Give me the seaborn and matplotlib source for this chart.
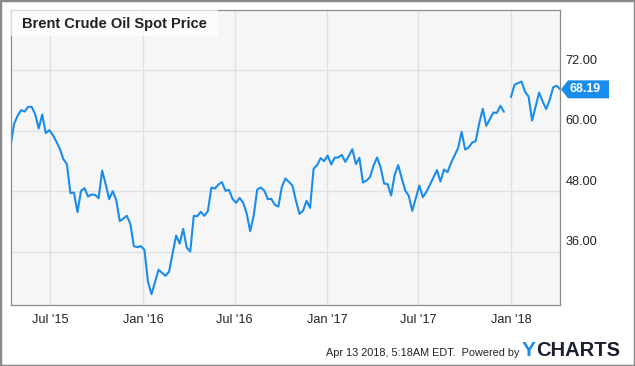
import numpy as np
import pandas as pd
import matplotlib
matplotlib.use("Agg")
import matplotlib.pyplot as plt
import matplotlib.dates as mdates
import matplotlib.transforms as mtransforms
from matplotlib.patches import Polygon, Rectangle
import seaborn as sns

# ---------------- data ----------------
title = "Brent Crude Oil Spot Price"
start_date = "2015-04-13"
prices = [
    56.87, 61.31, 62.95, 64.08, 63.80, 64.73, 64.73, 63.29, 60.44, 63.21,
    59.52, 60.12, 59.19, 57.86, 56.42, 54.38, 53.39, 47.64, 47.76, 43.88,
    48.10, 48.63, 46.97, 47.37, 47.31, 46.65, 52.12, 49.43, 46.46, 48.04,
    46.32, 42.10, 42.61, 43.15, 41.56, 37.15, 36.95, 37.15, 36.42, 30.14,
    27.64, 30.02, 32.46, 31.86, 31.27, 32.12, 35.76, 39.25, 37.66, 40.57,
    36.87, 36.08, 43.15, 43.09, 43.94, 43.15, 44.08, 48.75, 48.55, 49.35,
    49.82, 48.10, 48.30, 46.51, 45.72, 46.71, 45.78, 43.68, 40.12, 43.15,
    48.36, 48.75, 48.16, 46.46, 46.51, 45.33, 44.99, 48.89, 50.53, 49.88,
    49.15, 46.12, 43.54, 44.14, 46.12, 44.73, 52.46, 53.19, 54.57, 53.98,
    55.09, 53.31, 54.69, 54.69, 55.23, 53.84, 55.03, 56.36, 53.39, 54.63,
    49.74, 50.14, 50.81, 53.05, 54.69, 52.79, 49.54, 49.43, 47.17, 51.27,
    53.19, 50.61, 48.16, 47.11, 44.14, 46.65, 49.15, 46.85, 47.90, 49.29,
    50.73, 52.20, 49.94, 52.32, 51.80, 53.64, 55.09, 56.55, 59.78, 56.28,
    56.67, 57.66, 57.94, 61.50, 64.34, 60.97, 62.30, 63.60, 63.54, 64.93,
    63.74, None, 66.65, 69.09, 69.43, 69.74, 67.70, 66.77, 62.02, 64.79,
    67.56, 65.78, 64.28, 66.12, 68.63, 68.89, 68.19,
]
y_ticks = [36, 48, 60, 72]
y_tick_labels = ["36.00", "48.00", "60.00", "72.00"]
last_label = "68.19"
footer_text = "Apr 13 2018, 5:18AM EDT.  Powered by"
logo_y = "Y"
logo_rest = "CHARTS"

dates = pd.date_range(start_date, periods=len(prices), freq="7D")
df = pd.DataFrame({"date": dates, "price": pd.to_numeric(pd.Series(prices), errors="coerce")})
df["seg"] = df["price"].isna().cumsum()
df = df.dropna()

# ---------------- style ----------------
sns.set_theme(style="white")
plt.rcParams["font.family"] = ["Liberation Sans", "DejaVu Sans"]

line_color = "#1a8ceb"
W, H = 635, 366
fig = plt.figure(figsize=(W / 100, H / 100), dpi=100)
fig.patch.set_facecolor("white")

L, R, T, B = 10.5, 560.3, 10.0, 305.0
ax = fig.add_axes([L / W, (H - B) / H, (R - L) / W, (B - T) / H])
ax.set_facecolor("#f6f6f6")

sns.lineplot(data=df, x="date", y="price", units="seg", estimator=None,
             color=line_color, lw=1.5, ax=ax, legend=False)

ax.set_xlim(dates[0], dates[-1])
ax.set_ylim(25.5, 83.9)
ax.set_xlabel("")
ax.set_ylabel("")

ax.xaxis.set_major_locator(mdates.MonthLocator(bymonth=[1, 7]))
ax.xaxis.set_major_formatter(mdates.DateFormatter("%b '%y"))
ax.set_yticks(y_ticks)
ax.tick_params(axis="y", length=0, left=False, right=False, labelleft=False, labelright=False)
ax.tick_params(axis="x", length=0, pad=6.5, labelsize=9.2, labelcolor="#222222")
ax.grid(True, color="#e0e0e0", lw=1)
ax.set_axisbelow(True)
for s in ax.spines.values():
    s.set_visible(True)
    s.set_color("#8c8c8c")
    s.set_linewidth(0.9)

# right-side y labels, raised above their grid lines
trans = mtransforms.blended_transform_factory(ax.transAxes, ax.transData)
trans_off = mtransforms.offset_copy(trans, fig=fig, x=5, y=9.5, units="dots")
for v, lab in zip(y_ticks, y_tick_labels):
    ax.text(1.0, v, lab, transform=trans_off, ha="left", va="center",
            fontsize=9.2, color="#222222", clip_on=False)

# title box
ax.add_patch(Rectangle((0, (B - 36) / (B - T)), (218 - L) / (R - L), (36 - T) / (B - T) + 0.01,
                       transform=ax.transAxes, facecolor="white", alpha=0.7,
                       edgecolor="none", zorder=3, clip_on=False))
ax.text((22 - L) / (R - L), (B - 24) / (B - T), title, transform=ax.transAxes,
        ha="left", va="center", fontsize=10.5, fontweight="bold", color="#222222", zorder=4)

# last-value marker
fig.canvas.draw()
yd = ax.transData.transform((0, float(df["price"].iloc[-1])))[1]
pts = [(561, yd), (568, yd + 9), (609, yd + 9), (609, yd - 9), (568, yd - 9)]
fig.patches.append(Polygon(pts, closed=True, transform=None, facecolor="#1a8ceb",
                           edgecolor="none", figure=fig))
fig.text(585.5 / W, yd / H, last_label, ha="center", va="center", fontsize=8.9,
         fontweight="bold", color="white")

# footer
fig.text(520 / W, (H - 353) / H, footer_text, ha="right", va="center",
         fontsize=7.8, color="#222222")
fig.text(522 / W, (H - 356.5) / H, logo_y, ha="left", va="baseline",
         fontsize=15, fontweight="bold", color="#1a8ceb")
fig.text(536 / W, (H - 356.5) / H, logo_rest, ha="left", va="baseline",
         fontsize=14.5, fontweight="bold", color="#1b1f2e")

# outer frame
fig.patches.append(Rectangle((0, 0), 1, 1, transform=fig.transFigure, fill=False,
                             edgecolor="#8a8a8a", lw=2.5, figure=fig))

fig.savefig("out.png", dpi=100)
